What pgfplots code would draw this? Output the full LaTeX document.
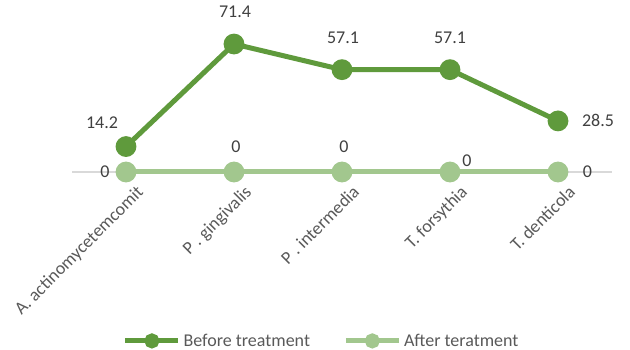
\documentclass[border=0pt]{standalone}
\usepackage{pgfplots}
\pgfplotsset{compat=1.18}
\usepackage{pgfplotstable}
\usepackage{fontspec}
\setmainfont{Carlito}

\definecolor{beforecol}{HTML}{5F9A3C}
\definecolor{aftercol}{HTML}{A2C78E}
\definecolor{axisgray}{HTML}{D9D9D9}
\definecolor{labelgray}{HTML}{404040}
\definecolor{tickgray}{HTML}{595959}

% x = category index, y = value, dx/dy = label offset (pt)
\pgfplotstableread{
x y dx dy
0 14.2 -18 18
1 71.4 0.75 24
2 57.1 0.75 24
3 57.1 0 24
4 28.5 30 0
}\beforetab
\pgfplotstableread{
x y dx dy
0 0 -15.75 0
1 0 1.5 18.75
2 0 1.5 18.75
3 0 12.75 8.25
4 0 22 0
}\aftertab

\begin{document}
\begin{tikzpicture}
\path[use as bounding box] (0,0) rectangle (472.5pt,261.75pt);
\begin{axis}[
  at={(54pt,132.75pt)}, anchor=south west,
  scale only axis, width=405pt, height=107.55pt,
  xmin=-0.5, xmax=4.5, ymin=0, ymax=80,
  axis x line*=bottom, axis y line=none,
  x axis line style={draw=axisgray, line width=0.9pt, -},
  xtick={0,...,4},
  xticklabels={A. actinomycetemcomit, P . gingivalis, P . intermedia, T. forsythia, T. denticola},
  major tick length=0pt,
  xticklabel style={rotate=45, anchor=north east, xshift=2pt, yshift=-8pt,
    font=\fontsize{13.5}{16}\selectfont, text=tickgray},
  ytick=\empty,
  clip=false,
  /pgf/number format/assume math mode=true,
  /pgf/number format/fixed, /pgf/number format/precision=1,
  nodes near coords,
  visualization depends on={\thisrow{dx} \as \dx},
  visualization depends on={\thisrow{dy} \as \dy},
  every node near coord/.append style={anchor=center, xshift=\dx pt, yshift=\dy pt,
    font=\fontsize{13.5}{16}\selectfont, text=labelgray, inner sep=0pt},
  legend style={at={(0.463,-1.178)}, anchor=center, draw=none, fill=none,
    font=\fontsize{13.5}{16}\selectfont, text=tickgray, inner sep=0pt,
    /tikz/every even column/.append style={column sep=23pt}},
  legend columns=2,
  legend cell align=left,
  legend image code/.code={\draw[mark repeat=2,mark phase=2,#1,mark size=3.75pt]
    plot coordinates {(0pt,0pt) (19.875pt,0pt) (39.75pt,0pt)};},
]
\addplot[color=beforecol, line width=3.75pt, mark=*, mark size=5.9pt,
  mark options={draw=none, fill=beforecol}] table[x=x, y=y] {\beforetab};
\addlegendentry{Before treatment}
\addplot[color=aftercol, line width=3.75pt, mark=*, mark size=5.9pt,
  mark options={draw=none, fill=aftercol}] table[x=x, y=y] {\aftertab};
\addlegendentry{After teratment}
\end{axis}
\end{tikzpicture}
\end{document}
